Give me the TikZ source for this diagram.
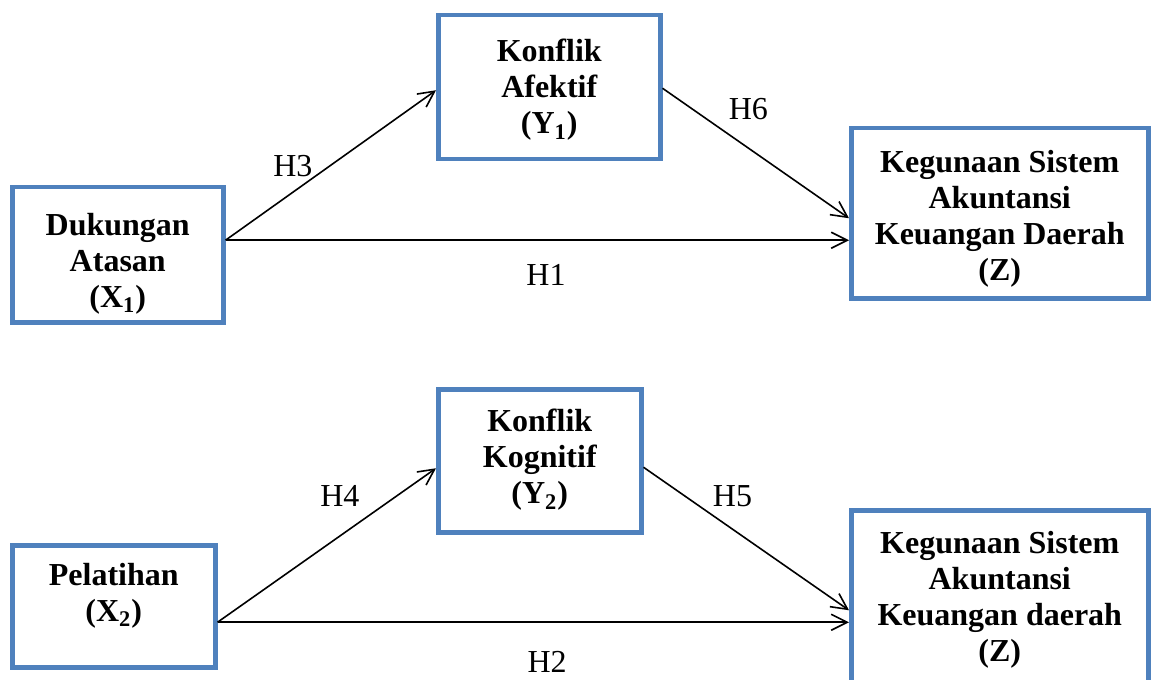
\documentclass[tikz,border=0pt]{standalone}
\usepackage{fontspec}
\setmainfont{Liberation Serif}
\usetikzlibrary{arrows.meta}

\definecolor{boxblue}{RGB}{79,129,189}
\tikzset{
	var/.style={draw=boxblue, line width=2.25pt, align=center, anchor=north west,
		inner xsep=2pt, inner ysep=0pt, font=\fontsize{16pt}{18pt}\selectfont\bfseries},
	hyp/.style={font=\fontsize{16pt}{18pt}\selectfont, inner sep=1pt},
	link/.style={line width=0.8pt, -{Straight Barb[length=8pt,width=8pt]}}
}

\begin{document}
\begin{tikzpicture}[x=0.5pt, y=-0.5pt]
		\useasboundingbox (0,0) rectangle (1154,679);
		% model 1
		\node [var, minimum width=105.5pt, text height=60pt, text depth=7.5pt] (X1) at (10,185) {Dukungan\\Atasan\\(X\textsubscript{1})};
		\node [var, minimum width=111pt, text height=59.3pt, text depth=12.7pt] (Y1) at (436,13) {Konflik\\Afektif\\(Y\textsubscript{1})};
		\node [var, minimum width=148.5pt, text height=76pt, text depth=9pt] (Z1) at (849,126) {Kegunaan Sistem\\Akuntansi\\Keuangan Daerah\\(Z)};
		\draw [link] ([yshift=7.25pt]X1.east) -- node [hyp, pos=0.32, yshift=13pt] (h3) {H3} ([yshift=-1.5pt]Y1.west);
		\draw [link] ([yshift=7.25pt]X1.east) -- node [hyp, pos=0.514, yshift=-17.5pt] (h1) {H1} ([yshift=-13.5pt]Z1.west);
		\draw [link] ([yshift=-0.5pt]Y1.east) -- node [hyp, pos=0.46, yshift=19.5pt] (h6) {H6} ([yshift=-2.5pt]Z1.west);
		
		% model 2 (the last box runs off the bottom edge)
		\node [var, minimum width=101.5pt, text height=38pt, text depth=23pt] (X2) at (10,543) {Pelatihan\\(X\textsubscript{2})};
		\node [var, minimum width=101.5pt, text height=57.3pt, text depth=14.2pt] (Y2) at (436,387) {Konflik\\Kognitif\\(Y\textsubscript{2})};
		\node [var, minimum width=148.5pt, text height=75.5pt, text depth=14pt] (Z2) at (849,508) {Kegunaan Sistem\\Akuntansi\\Keuangan daerah\\(Z)};
		\draw [link] ([yshift=-8pt]X2.east) -- node [hyp, pos=0.56, yshift=19.9pt] (h4) {H4} ([yshift=-3.75pt]Y2.west);
		\draw [link] ([yshift=-8pt]X2.east) -- node [hyp, pos=0.522, yshift=-20pt] (h2) {H2} ([yshift=-11.25pt]Z2.west);
		\draw [link] ([yshift=-3.25pt]Y2.east) -- node [hyp, pos=0.433, yshift=16.5pt] (h5) {H5} ([yshift=-5.25pt]Z2.west);
\end{tikzpicture}
\end{document}
